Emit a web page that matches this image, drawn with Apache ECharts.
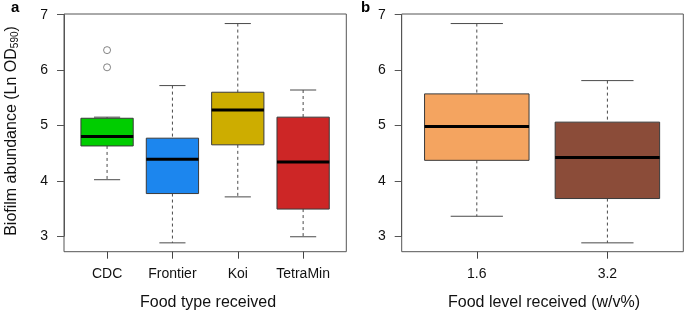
<!DOCTYPE html>
<html>
<head>
<meta charset="utf-8">
<script src="https://cdn.jsdelivr.net/npm/echarts@6/dist/echarts.min.js"></script>
<style>
html,body{margin:0;padding:0;background:#fff;}
#chart{width:685px;height:313px;}
</style>
</head>
<body>
<div id="chart"></div>
<script>
// ---- Data: panel a (food type) ----
const foodTypes = ['CDC', 'Frontier', 'Koi', 'TetraMin'];
const typeMin = [4.02, 2.88, 3.71, 2.99];
const typeQ1 = [4.63, 3.77, 4.65, 3.49];
const typeMedian = [4.80, 4.39, 5.28, 4.34];
const typeQ3 = [5.13, 4.77, 5.60, 5.15];
const typeMax = [5.15, 5.72, 6.84, 5.64];
const typeOutlierCategory = ['CDC', 'CDC'];
const typeOutlierValue = [6.36, 6.05];

// ---- Data: panel b (food level) ----
const foodLevels = ['1.6', '3.2'];
const levelMin = [3.36, 2.88];
const levelQ1 = [4.37, 3.68];
const levelMedian = [4.98, 4.42];
const levelQ3 = [5.57, 5.06];
const levelMax = [6.84, 5.81];

// ---- Axis ticks ----
const yTicks = [3, 4, 5, 6, 7];

// ---- Styles ----
const typeColors = ['#00CD00', '#1C86EE', '#CDAD00', '#CD2626'];
const levelColors = ['#F4A460', '#8B4C39'];
const FONT = '"Liberation Sans", Arial, Helvetica, sans-serif';

function buildBoxData(cats, mn, q1, md, q3, mx, colors) {
  return cats.map((c, i) => ({
    value: [i, mn[i], q1[i], md[i], q3[i], mx[i]],
    itemStyle: { color: colors[i] }
  }));
}

function renderBox(params, api) {
  const i = api.value(0);
  const lo = api.value(1), q1 = api.value(2), med = api.value(3), q3 = api.value(4), hi = api.value(5);
  const band = api.size([1, 0])[0];
  const cx = api.coord([i, med])[0];
  const y = v => api.coord([i, v])[1];
  const hw = band * 0.4, cw = band * 0.2;
  const color = api.visual('color');
  const whisk = { stroke: '#4a4a4a', lineWidth: 1, lineDash: [3, 3] };
  const cap = { stroke: '#4a4a4a', lineWidth: 1 };
  return {
    type: 'group',
    children: [
      { type: 'line', shape: { x1: cx, y1: y(hi), x2: cx, y2: y(q3) }, style: whisk },
      { type: 'line', shape: { x1: cx, y1: y(q1), x2: cx, y2: y(lo) }, style: whisk },
      { type: 'line', shape: { x1: cx - cw, y1: y(hi), x2: cx + cw, y2: y(hi) }, style: cap },
      { type: 'line', shape: { x1: cx - cw, y1: y(lo), x2: cx + cw, y2: y(lo) }, style: cap },
      { type: 'rect', shape: { x: cx - hw, y: y(q3), width: 2 * hw, height: y(q1) - y(q3) },
        style: { fill: color, stroke: '#3a3a3a', lineWidth: 1 } },
      { type: 'line', shape: { x1: cx - hw, y1: y(med), x2: cx + hw, y2: y(med) },
        style: { stroke: '#000', lineWidth: 3 } }
    ]
  };
}

function frameAxes(gridIndex) {
  return {
    x: { gridIndex, type: 'value', min: 0, max: 1, show: false },
    y: { gridIndex, type: 'value', min: 0, max: 1, show: false }
  };
}

function mainX(gridIndex, cats) {
  return {
    gridIndex, type: 'category', data: cats, offset: 15.5,
    axisLine: { show: false },
    axisTick: { show: true, alignWithLabel: true, interval: 0, length: 7, lineStyle: { color: '#444', width: 1 } },
    axisLabel: { interval: 0, fontSize: 14, color: '#111', fontFamily: FONT, margin: 15 },
    splitLine: { show: false }
  };
}
function mainY(gridIndex, offset) {
  return {
    gridIndex, type: 'value', min: yTicks[0], max: yTicks[yTicks.length - 1], interval: 1, offset,
    axisLine: { show: true, lineStyle: { color: '#555', width: 1 } },
    axisTick: { show: true, length: 7, lineStyle: { color: '#555', width: 1 } },
    axisLabel: { fontSize: 14, color: '#111', fontFamily: FONT, margin: 16 },
    splitLine: { show: false }
  };
}

const fa = frameAxes(0), fb = frameAxes(2);

const option = {
  animation: false,
  backgroundColor: '#fff',
  grid: [
    { left: 64, top: 14, width: 282.3, height: 237.7, show: true, borderColor: '#555', borderWidth: 1, backgroundColor: 'transparent' },
    { left: 74.4, top: 14.7, width: 261.4, height: 221.5, containLabel: false },
    { left: 401.7, top: 14, width: 281.6, height: 237.7, show: true, borderColor: '#555', borderWidth: 1, backgroundColor: 'transparent' },
    { left: 411.5, top: 14.7, width: 261.2, height: 221.5, containLabel: false }
  ],
  xAxis: [fa.x, mainX(1, foodTypes), fb.x, mainX(3, foodLevels)],
  yAxis: [fa.y, mainY(1, 10.4), fb.y, mainY(3, 9.8)],
  series: [
    {
      type: 'custom', xAxisIndex: 1, yAxisIndex: 1,
      renderItem: renderBox,
      encode: { x: 0, y: [1, 2, 3, 4, 5] },
      data: buildBoxData(foodTypes, typeMin, typeQ1, typeMedian, typeQ3, typeMax, typeColors),
      clip: false
    },
    {
      type: 'scatter', xAxisIndex: 1, yAxisIndex: 1,
      symbol: 'circle', symbolSize: 7,
      itemStyle: { color: '#fff', borderColor: '#555', borderWidth: 0.9 },
      data: typeOutlierCategory.map((c, k) => [foodTypes.indexOf(c), typeOutlierValue[k]])
    },
    {
      type: 'custom', xAxisIndex: 3, yAxisIndex: 3,
      renderItem: renderBox,
      encode: { x: 0, y: [1, 2, 3, 4, 5] },
      data: buildBoxData(foodLevels, levelMin, levelQ1, levelMedian, levelQ3, levelMax, levelColors),
      clip: false
    }
  ],
  graphic: [
    { type: 'text', left: 11, top: 0, style: { text: 'a', font: 'bold 15px ' + FONT, fill: '#000' } },
    { type: 'text', left: 361, top: 0, style: { text: 'b', font: 'bold 15px ' + FONT, fill: '#000' } },
    { type: 'text', x: 208, y: 303, style: { text: 'Food type received', font: '16px ' + FONT, fill: '#111', align: 'center', verticalAlign: 'middle' } },
    { type: 'text', x: 544, y: 303, style: { text: 'Food level received (w/v%)', font: '16px ' + FONT, fill: '#111', align: 'center', verticalAlign: 'middle' } },
    { type: 'text', x: 12, y: 131, rotation: Math.PI / 2,
      style: {
        text: 'Biofilm abundance (Ln OD{sub|590})', fill: '#111',
        font: '16px ' + FONT, align: 'center', verticalAlign: 'middle',
        rich: { sub: { fontSize: 10, fontFamily: FONT, fill: '#111', verticalAlign: 'bottom', padding: [6, 0, 0, 0] } }
      } }
  ]
};

const chart = echarts.init(document.getElementById('chart'), null, { renderer: 'canvas' });
chart.setOption(option);
</script>
</body>
</html>
